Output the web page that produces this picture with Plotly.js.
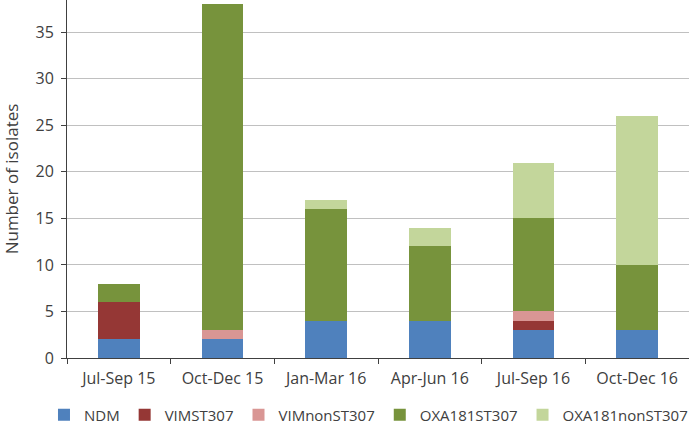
<!DOCTYPE html>
<html>
<head>
<meta charset="utf-8">
<script src="https://cdn.plot.ly/plotly-3.0.1.min.js"></script>
<style>
  html, body { margin: 0; padding: 0; background: #fff; }
  #chart { width: 689px; height: 425px; }
</style>
</head>
<body>
<div id="chart"></div>
<script>
const categories = ["Jul-Sep 15", "Oct-Dec 15", "Jan-Mar 16", "Apr-Jun 16", "Jul-Sep 16", "Oct-Dec 16"];
const seriesNames = ["NDM", "VIMST307", "VIMnonST307", "OXA181ST307", "OXA181nonST307"];
const ndm = [2, 2, 4, 4, 3, 3];
const vimST307 = [4, 0, 0, 0, 1, 0];
const vimNonST307 = [0, 1, 0, 0, 1, 0];
const oxa181ST307 = [2, 35, 12, 8, 10, 7];
const oxa181NonST307 = [0, 0, 1, 2, 6, 16];
const yTickValues = [0, 5, 10, 15, 20, 25, 30, 35];

const seriesValues = [ndm, vimST307, vimNonST307, oxa181ST307, oxa181NonST307];
const colors = ["#4F81BD", "#953735", "#D99694", "#77933C", "#C3D69B"];

const textColor = "#404040";
const fontFamily = "'Open Sans', 'DejaVu Sans', sans-serif";

const traces = seriesNames.map((name, i) => ({
  type: "bar",
  name: name,
  x: categories,
  y: seriesValues[i],
  marker: { color: colors[i], line: { width: 0 } },
  hoverinfo: "x+y+name"
}));

const layout = {
  width: 689,
  height: 425,
  margin: { l: 67, r: 0, t: 0, b: 67, pad: 0, autoexpand: false },
  paper_bgcolor: "#ffffff",
  plot_bgcolor: "#ffffff",
  barmode: "stack",
  bargap: 0.595,
  font: { family: fontFamily, size: 16, color: textColor },
  showlegend: true,
  legend: {
    orientation: "h",
    xref: "paper",
    yref: "paper",
    x: -0.037,
    xanchor: "left",
    y: -0.159,
    yanchor: "middle",
    traceorder: "normal",
    font: { family: fontFamily, size: 15, color: textColor },
    itemwidth: 30,
    bgcolor: "rgba(0,0,0,0)"
  },
  xaxis: {
    type: "category",
    showline: true,
    linecolor: "#404040",
    linewidth: 1,
    ticks: "outside",
    tickson: "boundaries",
    ticklen: 5,
    tickcolor: "#404040",
    ticklabelstandoff: 6,
    showgrid: false,
    tickfont: { family: fontFamily, size: 16, color: textColor },
    automargin: false,
    fixedrange: true
  },
  yaxis: {
    range: [0, 38.47],
    tickvals: yTickValues,
    ticktext: yTickValues.map(String),
    showline: true,
    linecolor: "#404040",
    linewidth: 1,
    ticks: "outside",
    ticklen: 5,
    tickcolor: "#404040",
    ticklabelstandoff: 4,
    showgrid: true,
    gridcolor: "#C0C0C0",
    gridwidth: 1,
    zeroline: false,
    tickfont: { family: fontFamily, size: 16, color: textColor },
    title: { text: "Number of isolates", font: { family: fontFamily, size: 17, color: textColor }, standoff: 12 },
    automargin: false,
    fixedrange: true
  }
};

Plotly.newPlot("chart", traces, layout, { displayModeBar: false, staticPlot: true });
</script>
</body>
</html>
